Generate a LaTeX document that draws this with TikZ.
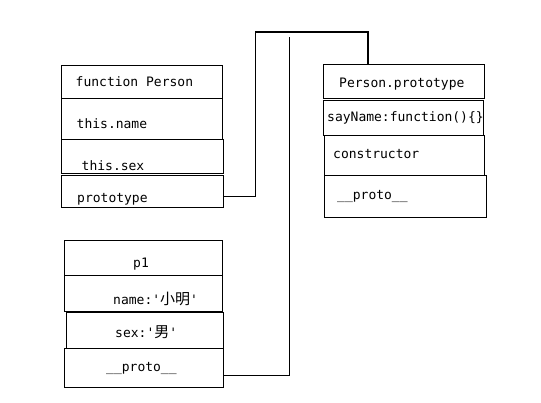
\documentclass[tikz,border=0pt]{standalone}
\usepackage{fontspec}
\usetikzlibrary{fit}
\setmonofont{DejaVu Sans Mono}
\newfontfamily\cjk{Noto Sans CJK SC}
\begin{document}
\begin{tikzpicture}[x=1pt,y=-1pt,
  cell/.style={draw=black,line width=1pt,inner sep=0pt},
  txt/.style={anchor=base west,inner sep=0pt,font=\ttfamily\fontsize{13}{15}\selectfont},
  link/.style={draw=black,line width=1pt},
  thick link/.style={draw=black,line width=1.6pt}]
\useasboundingbox (0,0) rectangle (541,402);
% Person constructor
\node[cell,fit={(61,65)(222,98)}] (fp) {};
\node[cell,fit={(61,98)(222,139)}] (tn) {};
\node[cell,fit={(61,139)(223,173)}] (ts) {};
\node[cell,fit={(61,175)(223,207)}] (pr) {};
% p1 instance
\node[cell,fit={(64,240)(222,275)}] (p1) {};
\node[cell,fit={(64,275)(222,311)}] (nm) {};
\node[cell,fit={(66,312)(223,348)}] (sx) {};
\node[cell,fit={(64,348)(223,387)}] (pp) {};
% Person.prototype
\node[cell,fit={(323,64)(484,98)}] (PP) {};
\node[cell,fit={(323,100)(483,135)}] (sn) {};
\node[cell,fit={(324,135)(484,175)}] (co) {};
\node[cell,fit={(324,175)(486,217)}] (po) {};
% texts
\node[txt] (tfp) at (75.5,86) {function Person};
\node[txt] (ttn) at (76.5,128) {this.name};
\node[txt] (tts) at (81.5,170) {this.sex};
\node[txt] (tpr) at (77,202) {prototype};
\node[txt,anchor=base] (tp1) at (141,267) {p1};
\node[txt] (tnm) at (113,304) {name:'{\cjk\fontsize{15}{15}\selectfont 小明}'};
\node[txt] (tsx) at (115,337) {sex:'{\cjk\fontsize{15}{15}\selectfont 男}'};
\node[txt] (tpp) at (106,371) {\_\_proto\_\_};
\node[txt] (tPP) at (339,87) {Person.prototype};
\node[txt] (tsn) at (327,121) {sayName:function()\{\}};
\node[txt] (tco) at (333,158) {constructor};
\node[txt] (tpo) at (337,199) {\_\_proto\_\_};
% connectors
\coordinate (c1) at (255,32);
\coordinate (c2) at (368,32);
\coordinate (c3) at (289,37);
\draw[link] ([yshift=-5pt]pr.east) -| (c1);
\draw[thick link] (c1) -- (c2) -- (c2 |- PP.north);
\draw[link] ([yshift=-8pt]pp.east) -| (c3);
\end{tikzpicture}
\end{document}
